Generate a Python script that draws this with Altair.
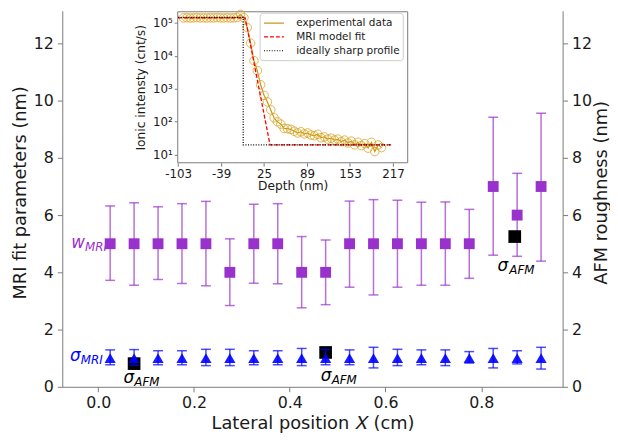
import altair as alt
import pandas as pd

# ---------------- main panel data ----------------
lateral_x = [0.025, 0.075, 0.125, 0.175, 0.225, 0.275, 0.325, 0.375, 0.425, 0.475,
             0.525, 0.575, 0.625, 0.675, 0.725, 0.775, 0.825, 0.875, 0.925]
w_mri = [5, 5, 5, 5, 5, 4, 5, 5, 4, 4, 5, 5, 5, 5, 5, 5, 7, 6, 7]
w_mri_hi = [6.32, 6.43, 6.29, 6.40, 6.48, 5.17, 6.38, 6.40, 5.25, 5.13,
            6.49, 6.54, 6.52, 6.45, 6.46, 6.20, 9.42, 7.46, 9.56]
w_mri_lo = [3.72, 3.55, 3.75, 3.61, 3.53, 2.84, 3.62, 3.60, 2.76, 2.87,
            3.48, 3.21, 3.48, 3.55, 3.55, 3.79, 4.60, 4.56, 4.39]
sigma_mri = [1.0, 1.0, 1.0, 1.0, 1.0, 1.0, 1.0, 1.0, 1.0, 1.0,
             1.0, 1.0, 1.0, 1.0, 1.0, 1.0, 1.0, 1.0, 1.0]
sigma_hi = [1.29, 1.30, 1.26, 1.26, 1.31, 1.31, 1.26, 1.26, 1.34, 1.30,
            1.29, 1.38, 1.31, 1.29, 1.29, 1.23, 1.34, 1.26, 1.38]
sigma_lo = [0.77, 0.75, 0.77, 0.77, 0.74, 0.74, 0.77, 0.77, 0.74, 0.77,
            0.77, 0.66, 0.74, 0.77, 0.74, 0.83, 0.66, 0.80, 0.62]
afm_x = [0.075, 0.475, 0.870]
afm_val = [0.81, 1.20, 5.25]

# annotation labels (symbol + subscript)
label_sym = ["w", "σ", "σ", "σ", "σ"]
label_sub = ["MRI", "MRI", "AFM", "AFM", "AFM"]
label_x = [-0.0565, -0.059, 0.053, 0.465, 0.834]
label_sub_x = [-0.0276, -0.0365, 0.0754, 0.4876, 0.8586]
label_y = [4.86, 0.90, 0.14, 0.21, 4.03]
label_color = ["#9932CC", "#0000FF", "#000000", "#000000", "#000000"]

# ---------------- inset data ----------------
depth_nm = [-95, -90, -85, -80, -75, -70, -65, -60, -55, -50, -45, -40, -35, -30, -25,
            -20, -15, -10, -5, 0, 5, 10, 15, 20, 25, 30, 35, 40, 45, 50, 55, 60, 65,
            70, 75, 80, 85, 90, 95, 100, 105, 110, 115, 120, 125, 130, 135, 140, 145,
            150, 155, 160, 165, 170, 175, 180, 185, 190, 195, 200]
intensity = [139000, 141000, 138000, 140000, 142000, 139000, 140000, 138000, 141000,
             139000, 142000, 140000, 139000, 141000, 138000, 140000, 143000, 178000,
             141000, 70800, 24000, 7080, 3550, 1320, 630, 400, 229, 132, 100, 85,
             63, 62, 59, 52, 46, 50, 43, 46, 40, 38, 42, 33, 35, 30, 32, 28, 30, 25,
             28, 23, 26, 20, 24, 19, 22, 16, 24, 12.6, 20, 16.6]
fit_depth = [-103, -3, 34, 215]
fit_cnt = [140000, 140000, 20, 20]
sharp_depth = [-103, -6, -6, 215]
sharp_cnt = [145000, 145000, 20, 20]
series_names = ["experimental data", "MRI model fit", "ideally sharp profile"]
inset_x_ticks = [-103, -39, 25, 89, 153, 217]
inset_y_ticks = [10, 100, 1000, 10000, 100000]
inset_x_dom = [-103.5, 239]
inset_y_dom = [5.77, 213000]

PURPLE = "#9932CC"
BLUE = "#0000FF"
GRAY = "#7a7a7a"
FONT = "DejaVu Sans"

main_df = pd.DataFrame({"x": lateral_x, "w": w_mri, "w_lo": w_mri_lo, "w_hi": w_mri_hi,
                        "s": sigma_mri, "s_lo": sigma_lo, "s_hi": sigma_hi})
afm_df = pd.DataFrame({"x": afm_x, "r": afm_val})
lab_df = pd.DataFrame({"x": label_x, "sx": label_sub_x, "y": label_y,
                       "sym": label_sym, "sub": label_sub, "col": label_color})

xs = alt.Scale(domain=[-0.075, 0.97], nice=False, zero=False)
ys = alt.Scale(domain=[0, 13.14], nice=False, zero=False)

x_axis = alt.Axis(orient="bottom", values=[0, 0.2, 0.4, 0.6, 0.8], format=".1f",
                  title="Lateral position 𝑋 (cm)", tickSize=5, labelPadding=3, labelFlush=False,
                  titleY=42, titleBaseline="alphabetic", labelFontSize=16, titleFontSize=18)
y_axis = alt.Axis(orient="left", values=[0, 2, 4, 6, 8, 10, 12], title="MRI fit parameters (nm)",
                  tickSize=5, labelPadding=4, titleAngle=270, titleX=-37.5, titleY=184,
                  titleBaseline="alphabetic", titleAlign="center", labelFontSize=16, titleFontSize=18)
y_axis_r = alt.Axis(orient="right", values=[0, 2, 4, 6, 8, 10, 12], title="AFM roughness (nm)",
                    tickSize=5, labelPadding=4, titleAngle=270, titleX=44, titleY=184,
                    titleBaseline="alphabetic", titleAlign="center", labelFontSize=16, titleFontSize=18)


def X(field, axis):
    return alt.X(field, type="quantitative", scale=xs, axis=axis)


def Y(field, axis):
    return alt.Y(field, type="quantitative", scale=ys, axis=axis)


# ---- group A: w_MRI (left + bottom axes)
base_a = alt.Chart(main_df)
rule_w = base_a.mark_rule(color=PURPLE, strokeWidth=1.5, opacity=0.7).encode(
    x=X("x", x_axis), y=Y("w_lo", y_axis), y2="w_hi")
cap_w_lo = base_a.mark_tick(orient="horizontal", size=10, thickness=1.5, color=PURPLE, opacity=0.7).encode(
    x=X("x", x_axis), y=Y("w_lo", y_axis))
cap_w_hi = base_a.mark_tick(orient="horizontal", size=10, thickness=1.5, color=PURPLE, opacity=0.7).encode(
    x=X("x", x_axis), y=Y("w_hi", y_axis))
sq_w = base_a.mark_point(shape="square", filled=True, size=121, color=PURPLE, opacity=1).encode(
    x=X("x", x_axis), y=Y("w", y_axis))
group_a = alt.layer(rule_w, cap_w_lo, cap_w_hi, sq_w)

# ---- group B: AFM roughness (right axis)
group_b = alt.Chart(afm_df).mark_point(shape="square", filled=True, size=165, color="black", opacity=1).encode(
    x=X("x", None), y=Y("r", y_axis_r))

# ---- group C: sigma_MRI and labels
base_c = alt.Chart(main_df)
rule_s = base_c.mark_rule(color=BLUE, strokeWidth=1.5, opacity=0.7).encode(
    x=X("x", None), y=Y("s_lo", None), y2="s_hi")
cap_s_lo = base_c.mark_tick(orient="horizontal", size=10, thickness=1.5, color=BLUE, opacity=0.7).encode(
    x=X("x", None), y=Y("s_lo", None))
cap_s_hi = base_c.mark_tick(orient="horizontal", size=10, thickness=1.5, color=BLUE, opacity=0.7).encode(
    x=X("x", None), y=Y("s_hi", None))
tri_s = base_c.mark_point(shape="triangle-up", filled=True, size=130, color=BLUE, opacity=0.9).encode(
    x=X("x", None), y=Y("s", None))
sym_text = alt.Chart(lab_df).mark_text(font=FONT, fontStyle="italic", fontSize=17, align="left",
                                       baseline="alphabetic").encode(
    x=X("x", None), y=Y("y", None), text="sym:N", color=alt.Color("col:N", scale=None))
sub_text = alt.Chart(lab_df).mark_text(font=FONT, fontStyle="italic", fontSize=12, align="left",
                                       baseline="alphabetic", dy=3).encode(
    x=X("sx", None), y=Y("y", None), text="sub:N", color=alt.Color("col:N", scale=None))
group_c = alt.layer(rule_s, cap_s_lo, cap_s_hi, tri_s, sym_text, sub_text)

# ---- group D: inset
ix = alt.Scale(domain=inset_x_dom, range=[117, 350], nice=False, zero=False)
iy = alt.Scale(type="log", domain=inset_y_dom, range=[154, 1], nice=False)
inset_x_axis = alt.Axis(orient="bottom", offset=-227, values=inset_x_ticks, labelExpr="datum.value + ''",
                        domain=False, tickSize=3.5, labelFontSize=12, labelPadding=2, labelFlush=False,
                        title="Depth (nm)", titleFontSize=12.4, titlePadding=1)
inset_y_axis = alt.Axis(orient="left", offset=-117, values=inset_y_ticks,
                        labelExpr="'10' + ['⁰','¹','²','³','⁴','⁵','⁶'][round(log(datum.value)/LN10)]",
                        domain=False, tickSize=3.5, labelFontSize=12, labelPadding=2, labelFlush=False,
                        title="Ionic intensty (cnt/s)", titleFontSize=12.4, titlePadding=5)

leg = alt.Legend(
    title=None, orient="none", legendX=200, legendY=2, fillColor="white", strokeColor="#cccccc",
    cornerRadius=3, padding=3, labelFontSize=10.6, labelFont=FONT, labelColor="#1a1a1a",
    symbolType="M-1.55,0H1.55", symbolSize=169, symbolStrokeWidth=1.2, symbolFillColor="transparent",
    rowPadding=0, labelOffset=15, symbolOffset=4)
cs = alt.Scale(domain=series_names, range=["#C8961E", "#FF0000", "#000000"])
ds = alt.Scale(domain=series_names, range=[[1, 0], [4, 2], [1, 1.6]])

frame_df = pd.DataFrame({"x0": [inset_x_dom[0]], "x1": [inset_x_dom[1]],
                         "y0": [inset_y_dom[0]], "y1": [inset_y_dom[1]]})
exp_df = pd.DataFrame({"depth": depth_nm, "cnt": intensity, "series": series_names[0]})
fit_df = pd.concat([
    pd.DataFrame({"depth": fit_depth, "cnt": fit_cnt, "series": series_names[1], "idx": [0, 1, 2, 3]}),
    pd.DataFrame({"depth": sharp_depth, "cnt": sharp_cnt, "series": series_names[2], "idx": [0, 1, 2, 3]}),
])

frame = alt.Chart(frame_df).mark_rect(fill="white", stroke=GRAY, strokeWidth=1).encode(
    x=alt.X("x0:Q", scale=ix, axis=inset_x_axis), x2="x1",
    y=alt.Y("y0:Q", scale=iy, axis=inset_y_axis), y2="y1")
exp_line = alt.Chart(exp_df).mark_line(strokeWidth=1.2).encode(
    x=alt.X("depth:Q", scale=ix, axis=inset_x_axis), y=alt.Y("cnt:Q", scale=iy, axis=inset_y_axis),
    color=alt.Color("series:N", scale=cs, legend=leg),
    strokeDash=alt.StrokeDash("series:N", scale=ds, legend=leg))
exp_pts = alt.Chart(exp_df).mark_point(shape="circle", filled=False, size=75, strokeWidth=1,
                                        color="#D9A521", opacity=0.8).encode(
    x=alt.X("depth:Q", scale=ix, axis=inset_x_axis), y=alt.Y("cnt:Q", scale=iy, axis=inset_y_axis))
fit_lines = alt.Chart(fit_df).mark_line(strokeWidth=1.3).encode(
    x=alt.X("depth:Q", scale=ix, axis=inset_x_axis), y=alt.Y("cnt:Q", scale=iy, axis=inset_y_axis),
    color=alt.Color("series:N", scale=cs, legend=leg),
    strokeDash=alt.StrokeDash("series:N", scale=ds, legend=leg),
    order="idx:Q")
group_d = alt.layer(frame, exp_line, exp_pts, fit_lines)

chart = alt.layer(group_a, group_b, group_c, group_d).resolve_scale(
    x="independent", y="independent"
).properties(
    width=507, height=381,
    padding={"left": 55, "top": 0, "right": 48, "bottom": 45},
    autosize=alt.AutoSizeParams(type="none"),
).configure_view(stroke=None).configure_axis(
    labelFont=FONT, titleFont=FONT, titleFontWeight="normal", grid=False,
    domainColor=GRAY, tickColor=GRAY, labelColor="#1a1a1a", titleColor="#1a1a1a",
).configure_legend(labelFont=FONT)

chart.save("out.html", embed_options={"renderer": "svg", "actions": False})
